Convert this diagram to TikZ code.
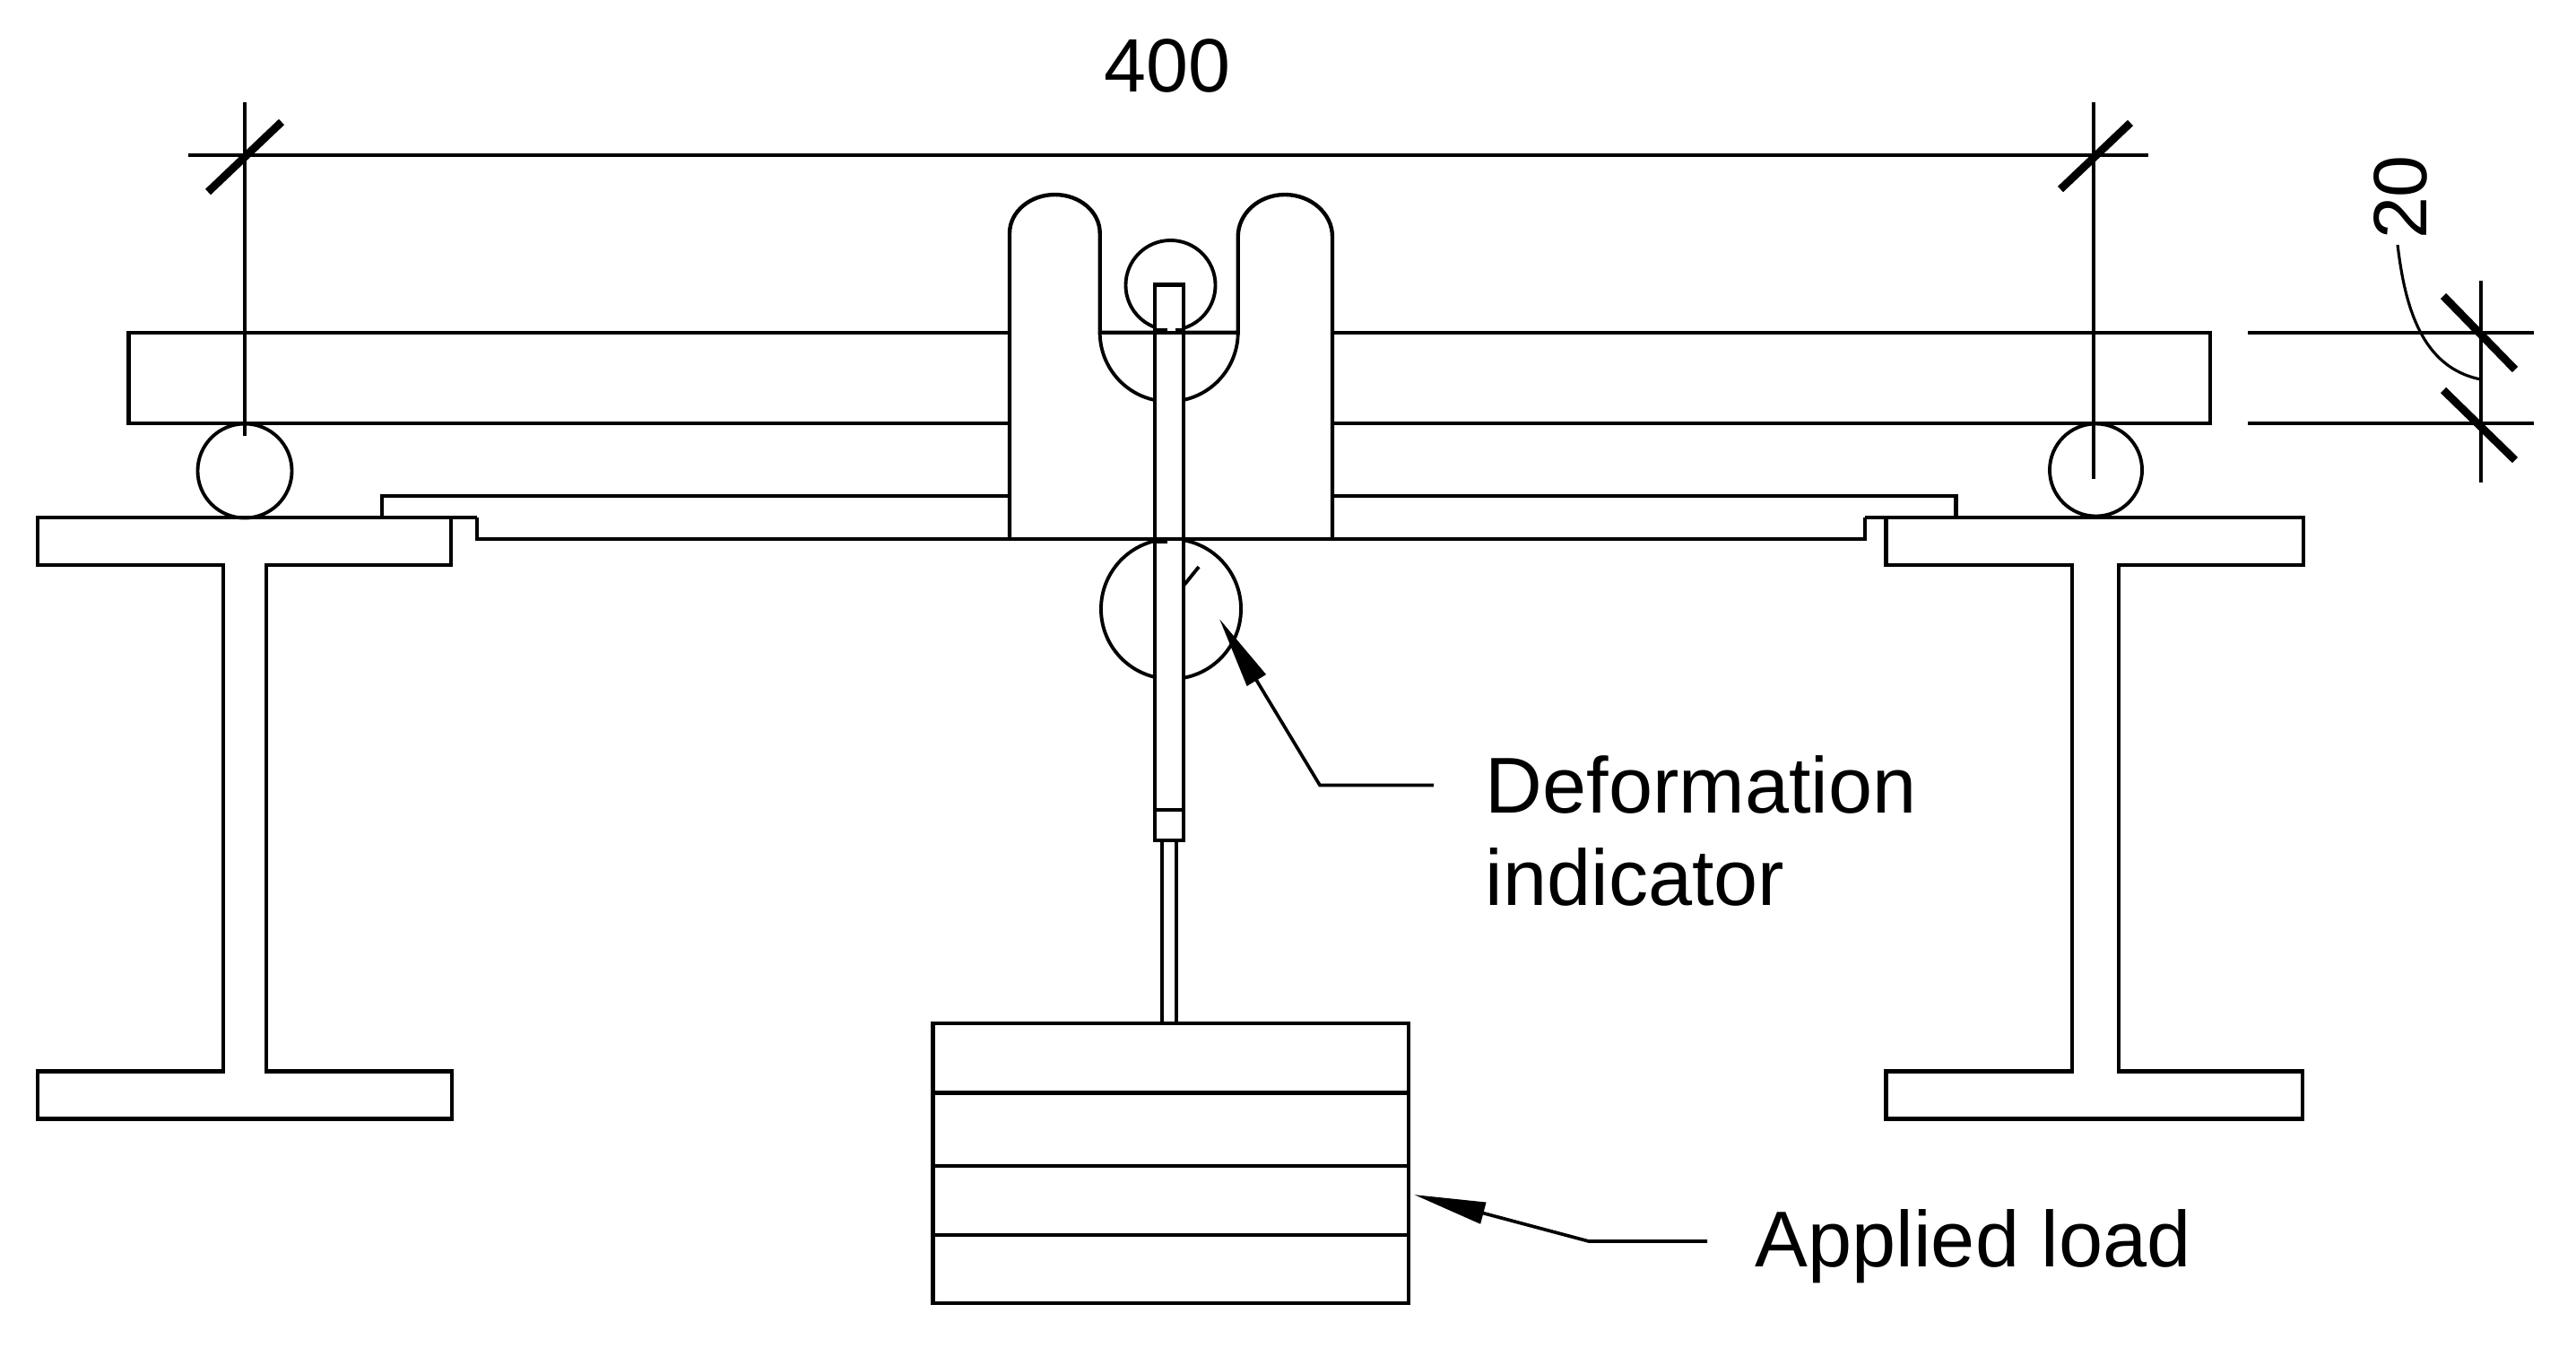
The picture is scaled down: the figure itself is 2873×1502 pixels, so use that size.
\documentclass[tikz,border=0pt]{standalone}
\usepackage{fontspec}
\setmainfont{Liberation Sans}
\usetikzlibrary{arrows.meta}
\tikzset{
  part/.style={draw=black,line width=1.25pt,line join=miter},
  fine/.style={draw=black,line width=1.1pt},
  tickmark/.style={draw=black,line width=2.5pt},
  roller/.style={circle,draw=black,line width=1.1pt,inner sep=0pt,fill=none},
  leader/.style={draw=black,line width=1.05pt,{Triangle[length=0.8cm,width=0.24cm]}-},
  label/.style={inner sep=0pt,font=\fontsize{25.1}{29.3}\selectfont,align=left},
}
\begin{document}
\begin{tikzpicture}[x=0.01cm,y=-0.01cm]
\useasboundingbox[fill=white] (0,0) rectangle (2873,1502);

% dimension 400
\draw[fine] (210,172.7) -- (2396,172.7);
\draw[fine] (273,114) -- (273,486);
\draw[fine] (2335,114) -- (2335,534);
\draw[tickmark] (232,214) -- (314,136);
\draw[tickmark] (2298,211) -- (2376,137);
\node[inner sep=0pt,font=\fontsize{24}{28}\selectfont] (dimA) at (1302,73) {400};

% dimension 20
\draw[fine] (2507,370.7) -- (2826,370.7);
\draw[fine] (2507,471.7) -- (2826,471.7);
\draw[fine] (2767,313) -- (2767,538);
\draw[tickmark] (2725,330) -- (2805,412);
\draw[tickmark] (2725,435) -- (2805,513);
\node[inner sep=0pt,rotate=90,font=\fontsize{24}{28}\selectfont] (dimB) at (2677,220) {20};
\coordinate (dimBa) at (2674,273);
\coordinate (dimBb) at (2767,423);
\draw[line width=0.9pt] (dimBa) .. controls (2682,340) and (2700,410) .. (dimBb);

% specimen beam
\draw[part] (1126,370.7) -- (143.5,370.7) -- (143.5,471.7) -- (1126,471.7);
\draw[part] (1486,370.7) -- (2465,370.7) -- (2465,471.7) -- (1486,471.7);

% support rollers
\node[roller,minimum size=1.05cm] (rollerL) at (273,525) {};
\node[roller,minimum size=1.03cm] (rollerR) at (2337.5,524) {};

% support frame
\draw[part] (426,577) -- (426,552.7) -- (1126,552.7);
\draw[part] (1486,552.7) -- (2181.6,552.7) -- (2181.6,577);
\draw[part] (532,577) -- (532,600.7) -- (2080,600.7) -- (2080,577);

% I-beams
\draw[part] (532,577) -- (42,577) -- (42,630) -- (248.7,630) -- (248.7,1194.5) -- (42,1194.5) -- (42,1247.6) -- (504,1247.6) -- (504,1194.5) -- (297,1194.5) -- (297,630) -- (503,630) -- (503,577);
\draw[part] (2080,577) -- (2569,577) -- (2569,630) -- (2363,630) -- (2363,1194.5) -- (2568,1194.5) -- (2568,1247.6) -- (2103.6,1247.6) -- (2103.6,1194.5) -- (2311,1194.5) -- (2311,630) -- (2103.6,630) -- (2103.6,577);

% central loading head
\draw[part] (1126,601) -- (1126,260) .. controls (1126,236) and (1149,217) .. (1176.5,217)
  .. controls (1204,217) and (1226.7,236) .. (1226.7,260) -- (1226.7,370.7) -- (1380.7,370.7)
  -- (1380.7,264) .. controls (1380.7,238) and (1404,217) .. (1433,217)
  .. controls (1462,217) and (1486,238) .. (1486,264) -- (1486,601);
\draw[fine] (1226.7,370.7) .. controls (1226.7,407) and (1252.2,438.5) .. (1287.7,446);
\draw[fine] (1380.7,370.7) .. controls (1380.7,407) and (1355.2,438.5) .. (1319.7,446);

% circles behind the rod
\node[roller,minimum size=1.0cm] (pinTop) at (1305.5,318) {};
\node[roller,minimum size=1.56cm] (pinLow) at (1306,679) {};
\draw[fine] (1320,653) -- (1337,632);

% rod
\draw[part,fill=white] (1287.7,317.3) rectangle (1320,936.7);
\draw[part] (1287.7,903) -- (1320,903);
\draw[part] (1287.7,370.7) -- (1320,370.7);
\draw[part] (1287.7,601) -- (1320,601);
\draw[line width=1.4pt] (1290,368.5) -- (1302,368.5);
\draw[line width=1.4pt] (1311,368.5) -- (1320,368.5);
\draw[line width=1.4pt] (1288,604) -- (1302,604);
\draw[part] (1295.7,936.7) -- (1295.7,1141);
\draw[part] (1311.7,936.7) -- (1311.7,1141);

% load
\draw[part] (1040.6,1141) rectangle (1570.7,1453);
\draw[part] (1040.6,1218.3) -- (1570.7,1218.3);
\draw[part] (1040.6,1300) -- (1570.7,1300);
\draw[part] (1040.6,1376.7) -- (1570.7,1376.7);

% labels and leaders
\node[label,anchor=north west] (deform) at (1656,842) {Deformation\\indicator};
\node[label,anchor=base west] (applied) at (1957,1412) {Applied load};
\coordinate (tipD) at (1360,690);
\coordinate (elbD) at (1472,875.5);
\coordinate (endD) at (1599,875.5);
\draw[leader] (tipD) -- (elbD) -- (endD);
\coordinate (tipA) at (1577,1332);
\coordinate (elbA) at (1772,1384);
\coordinate (endA) at (1904,1384);
\draw[leader] (tipA) -- (elbA) -- (endA);
\end{tikzpicture}
\end{document}
